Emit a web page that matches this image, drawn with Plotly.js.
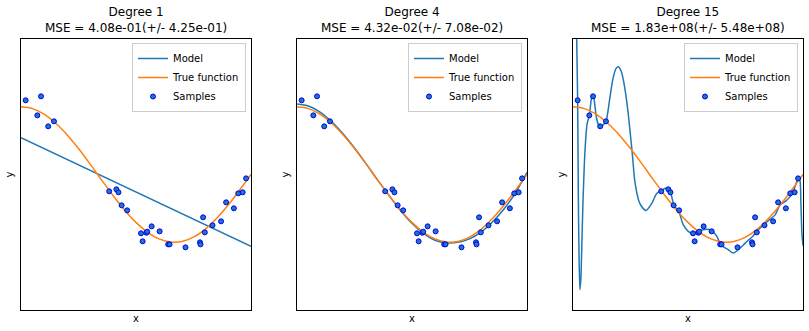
<!DOCTYPE html>
<html>
<head>
<meta charset="utf-8">
<script src="https://cdn.plot.ly/plotly-3.0.1.min.js"></script>
<style>html,body{margin:0;padding:0;background:#fff;}#chart{width:809px;height:331px;}</style>
</head>
<body>
<div id="chart"></div>
<script>
// ---- data ----
const degrees = [1, 4, 15];
const titles = [
  "Degree 1<br>MSE = 4.08e-01(+/- 4.25e-01)",
  "Degree 4<br>MSE = 4.32e-02(+/- 7.08e-02)",
  "Degree 15<br>MSE = 1.83e+08(+/- 5.48e+08)"
];
const xSamples = [0.0202, 0.0710, 0.0871, 0.1183, 0.1434, 0.3834, 0.4147, 0.4237, 0.4376, 0.4615,
  0.5218, 0.5289, 0.5449, 0.5488, 0.5680, 0.6028, 0.6399, 0.6459, 0.7152, 0.7782,
  0.7805, 0.7917, 0.7992, 0.8326, 0.8700, 0.8918, 0.9256, 0.9447, 0.9637, 0.9786];
const ySamples = [1.095, 0.873, 1.154, 0.711, 0.785, -0.248, -0.219, -0.263, -0.455, -0.529,
  -0.868, -0.986, -0.860, -0.844, -0.765, -0.839, -1.031, -1.031, -1.075, -1.001,
  -1.031, -0.632, -0.854, -0.750, -0.691, -0.411, -0.499, -0.278, -0.263, -0.057];

const xTrue = [0, 0.05, 0.1, 0.15, 0.2, 0.25, 0.3, 0.35, 0.4, 0.45, 0.5, 0.55, 0.6, 0.65, 0.7, 0.75, 0.8, 0.85, 0.9, 0.95, 1.0];
const yTrue = [1.0, 0.972, 0.891, 0.760, 0.588, 0.383, 0.156, -0.079, -0.309, -0.523, -0.707, -0.853, -0.951, -0.997, -0.988, -0.924, -0.809, -0.649, -0.454, -0.233, 0.0];

const xModel1 = [0, 1];
const yModel1 = [0.543, -1.06];

const xModel4 = [0, 0.05, 0.1, 0.15, 0.2, 0.25, 0.3, 0.35, 0.4, 0.45, 0.5, 0.55, 0.6, 0.65, 0.7, 0.75, 0.8, 0.85, 0.9, 0.95, 1.0];
const yModel4 = [1.04, 1.01, 0.92, 0.78, 0.60, 0.39, 0.16, -0.08, -0.31, -0.53, -0.72, -0.87, -0.97, -1.01, -1.00, -0.95, -0.85, -0.70, -0.51, -0.27, 0.03];

const xModel15 = [0, 0.012, 0.016, 0.0202, 0.023, 0.026, 0.030, 0.034, 0.038, 0.043, 0.052, 0.061, 0.071, 0.080, 0.086, 0.092,
  0.101, 0.110, 0.118, 0.130, 0.143, 0.159, 0.174, 0.188, 0.197, 0.210, 0.225, 0.239, 0.258, 0.270, 0.291, 0.317,
  0.342, 0.364, 0.385, 0.407, 0.422, 0.440, 0.460, 0.480, 0.501, 0.523, 0.545, 0.574, 0.600, 0.625, 0.643, 0.675,
  0.697, 0.719, 0.741, 0.762, 0.780, 0.798, 0.820, 0.849, 0.878, 0.900, 0.922, 0.943, 0.958, 0.972, 0.980, 0.986,
  0.991, 0.995, 1.0];
const yModel15 = [6.0, 3.0, 2.0, 1.10, -0.25, -1.13, -1.70, -1.55, -1.10, -0.45, 0.34, 0.74, 0.87, 1.12, 1.18, 1.10,
  0.86, 0.74, 0.71, 0.73, 0.78, 1.10, 1.42, 1.57, 1.59, 1.52, 1.28, 0.93, 0.30, -0.13, -0.43, -0.53,
  -0.43, -0.28, -0.23, -0.20, -0.25, -0.46, -0.55, -0.745, -0.84, -0.87, -0.83, -0.81, -0.82, -0.91, -1.04, -1.11,
  -1.16, -1.11, -1.04, -0.97, -0.92, -0.84, -0.77, -0.68, -0.60, -0.45, -0.40, -0.33, -0.25, -0.11, -0.06, -0.08,
  -0.43, -0.85, -1.05];

const modelX = [xModel1, xModel4, xModel15];
const modelY = [yModel1, yModel4, yModel15];

// ---- layout geometry ----
const W = 809, H = 331;
const panels = [[21, 251], [297, 527], [573, 803]];
const yTop = 39, yBot = 310;
const fontFam = "DejaVu Sans, sans-serif";

const traces = [];
const layout = {
  width: W, height: H,
  margin: {l: 0, r: 0, t: 0, b: 0},
  paper_bgcolor: "#fff", plot_bgcolor: "#fff",
  font: {family: fontFam, size: 10, color: "#000"},
  showlegend: true,
  annotations: [],
  shapes: []
};

degrees.forEach((d, i) => {
  const n = i === 0 ? "" : String(i + 1);
  const xa = "x" + n, ya = "y" + n;
  const lg = "legend" + n;
  traces.push({
    x: modelX[i], y: modelY[i], xaxis: xa, yaxis: ya, type: "scatter", mode: "lines",
    name: "Model", legend: lg,
    line: {color: "#1f77b4", width: 1.5, shape: i === 0 ? "linear" : "spline", smoothing: 0.8}
  });
  traces.push({
    x: xTrue, y: yTrue, xaxis: xa, yaxis: ya, type: "scatter", mode: "lines",
    name: "True function", legend: lg,
    line: {color: "#ff7f0e", width: 1.5, shape: "spline"}
  });
  traces.push({
    x: xSamples, y: ySamples, xaxis: xa, yaxis: ya, type: "scatter", mode: "markers",
    name: "Samples", legend: lg,
    marker: {color: "#1f77b4", size: 5, line: {color: "#0000ff", width: 1}}
  });
  const axCommon = {
    showgrid: false, zeroline: false, showticklabels: false, ticks: "",
    showline: true, mirror: true, linecolor: "#000", linewidth: 1
  };
  layout["xaxis" + n] = Object.assign({}, axCommon, {
    domain: [panels[i][0] / W, panels[i][1] / W], range: [0, 1], anchor: ya,
    title: {text: "x", font: {size: 10, family: fontFam}, standoff: 4}
  });
  layout["yaxis" + n] = Object.assign({}, axCommon, {
    domain: [(H - yBot) / H, (H - yTop) / H], range: [-2, 2], anchor: xa,
    title: {text: "y", font: {size: 10, family: fontFam}, standoff: 4}
  });
  layout[lg] = {
    x: (panels[i][1] - 5) / W, y: (H - 43) / H, xanchor: "right", yanchor: "top",
    xref: "paper", yref: "paper",
    bgcolor: "rgba(255,255,255,0.8)", bordercolor: "#cccccc", borderwidth: 1,
    font: {size: 10, family: fontFam, color: "#000"}
  };
  layout.annotations.push({
    text: titles[i], xref: "paper", yref: "paper",
    x: (panels[i][0] + panels[i][1]) / 2 / W, y: (H - 19.5) / H,
    xanchor: "center", yanchor: "middle", showarrow: false,
    font: {size: 12, family: fontFam, color: "#000"}
  });
});

Plotly.newPlot("chart", traces, layout, {displayModeBar: false, staticPlot: true});
</script>
</body>
</html>
